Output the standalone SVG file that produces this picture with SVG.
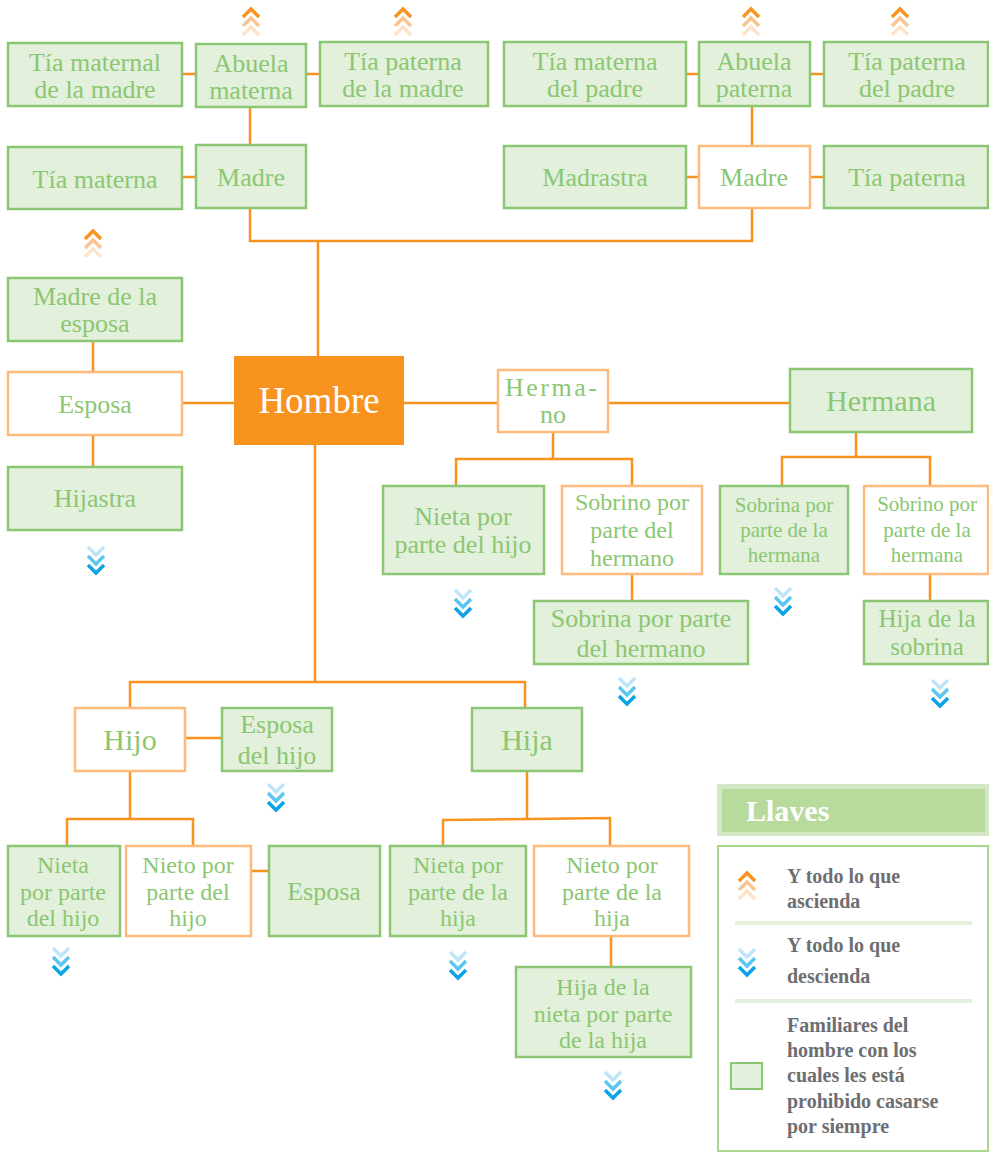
<svg xmlns="http://www.w3.org/2000/svg" width="989" height="1152" viewBox="0 0 989 1152">
<style>
.g{fill:#e3f0dc;stroke:#8bc772;stroke-width:2.5}
.o{fill:#ffffff;stroke:#fdba7c;stroke-width:2.5}
.t{font-family:"Liberation Serif","Times New Roman",serif;font-size:26px;fill:#8bc772;text-anchor:middle}
.t3{font-size:24px}
.c path{fill:none;stroke:#f7931e;stroke-width:2.5}
.lg{font-family:"Liberation Serif","Times New Roman",serif;font-size:20px;font-weight:bold;fill:#6d6e71}
.ch{fill:none;stroke-width:3.5}
</style>
<defs>
<g id="up">
<polyline class="ch" points="-8,8 0,0 8,8" stroke="#f7931e"/>
<polyline class="ch" points="-8,17 0,9 8,17" stroke="#fcc58f"/>
<polyline class="ch" points="-8,26 0,18 8,26" stroke="#fde3cc"/>
</g>
<g id="down">
<polyline class="ch" points="-8,0 0,8 8,0" stroke="#bfe6f8"/>
<polyline class="ch" points="-8,9 0,17 8,9" stroke="#5cc5f0"/>
<polyline class="ch" points="-8,18 0,26 8,18" stroke="#0aa3e6"/>
</g>
</defs>
<rect width="989" height="1152" fill="#ffffff"/>

<g class="c" id="connectors">
<path d="M182,74H196M306,74H320M182,177H196M250,107V145"/>
<path d="M686,74H699M810,74H824M686,177H699M810,177H824M752,106V146"/>
<path d="M250,208V241H752V208M318,241V356"/>
<path d="M93,341V372M93,435V467M182,403H234"/>
<path d="M404,403H498M608,403H790"/>
<path d="M553,432V459M456,486V459H632V486M632,574V601"/>
<path d="M856,432V457M782,486V457H930V486M930,574V601"/>
<path d="M315,445V682M130,708V682H525V708"/>
<path d="M185,738H222M130,771V819M67,846V819H193V846M251,871H269"/>
<path d="M527,771V819M443,846V820L610,818V846M611,936V967"/>
</g>

<g id="tia-maternal-madre"><rect class="g" x="8" y="43" width="174" height="63"/><text class="t" x="95" y="71">Tía maternal</text><text class="t" x="95" y="98">de la madre</text></g>
<g id="abuela-materna"><rect class="g" x="196" y="44" width="110" height="63"/><text class="t" x="251" y="72">Abuela</text><text class="t" x="251" y="99">materna</text></g>
<g id="tia-paterna-madre"><rect class="g" x="320" y="42" width="168" height="64"/><text class="t" x="403" y="70">Tía paterna</text><text class="t" x="403" y="97">de la madre</text></g>
<g id="tia-materna"><rect class="g" x="8" y="147" width="174" height="62"/><text class="t" x="95" y="188">Tía materna</text></g>
<g id="madre-1"><rect class="g" x="196" y="145" width="110" height="63"/><text class="t" x="251" y="186">Madre</text></g>

<g id="tia-materna-padre"><rect class="g" x="504" y="42" width="182" height="64"/><text class="t" x="595" y="70">Tía materna</text><text class="t" x="595" y="97">del padre</text></g>
<g id="abuela-paterna"><rect class="g" x="699" y="42" width="111" height="64"/><text class="t" x="754" y="70">Abuela</text><text class="t" x="754" y="97">paterna</text></g>
<g id="tia-paterna-padre"><rect class="g" x="824" y="42" width="164" height="64"/><text class="t" x="907" y="70">Tía paterna</text><text class="t" x="907" y="97">del padre</text></g>
<g id="madrastra"><rect class="g" x="504" y="146" width="182" height="62"/><text class="t" x="595" y="186">Madrastra</text></g>
<g id="madre-2"><rect class="o" x="699" y="146" width="111" height="62"/><text class="t" x="754" y="186">Madre</text></g>
<g id="tia-paterna"><rect class="g" x="824" y="146" width="164" height="62"/><text class="t" x="907" y="186">Tía paterna</text></g>

<g id="madre-esposa"><rect class="g" x="8" y="278" width="174" height="63"/><text class="t" x="95" y="305">Madre de la</text><text class="t" x="95" y="332">esposa</text></g>
<g id="esposa"><rect class="o" x="8" y="372" width="174" height="63"/><text class="t" x="95" y="413">Esposa</text></g>
<g id="hijastra"><rect class="g" x="8" y="467" width="174" height="63"/><text class="t" x="95" y="507">Hijastra</text></g>

<g id="hombre"><rect x="234" y="356" width="170" height="89" fill="#f7931e"/><text class="t" x="319" y="413" style="font-size:37px;fill:#ffffff">Hombre</text></g>

<g id="hermano"><rect class="o" x="498" y="370" width="110" height="62"/><text class="t" x="505" y="396" style="font-size:26px;letter-spacing:2.5px;text-anchor:start">Herma-</text><text class="t" x="553" y="423" style="font-size:26px">no</text></g>
<g id="hermana"><rect class="g" x="790" y="369" width="182" height="63"/><text class="t" x="881" y="411" style="font-size:30px">Hermana</text></g>

<g id="nieta-hijo-hermano"><rect class="g" x="383" y="486" width="161" height="88"/><text class="t" x="463" y="525">Nieta por</text><text class="t" x="463" y="553">parte del hijo</text></g>
<g id="sobrino-hermano"><rect class="o" x="562" y="486" width="140" height="88"/><text class="t t3" x="632" y="510">Sobrino por</text><text class="t t3" x="632" y="538">parte del</text><text class="t t3" x="632" y="566">hermano</text></g>
<g id="sobrina-hermano"><rect class="g" x="534" y="601" width="214" height="63"/><text class="t" x="641" y="627">Sobrina por parte</text><text class="t" x="641" y="657">del hermano</text></g>
<g id="sobrina-hermana"><rect class="g" x="720" y="486" width="128" height="88"/><text class="t" x="784" y="512" style="font-size:21px">Sobrina por</text><text class="t" x="784" y="537" style="font-size:21px">parte de la</text><text class="t" x="784" y="562" style="font-size:21px">hermana</text></g>
<g id="sobrino-hermana"><rect class="o" x="864" y="486" width="124" height="88"/><text class="t" x="927" y="511" style="font-size:21px">Sobrino por</text><text class="t" x="927" y="537" style="font-size:21px">parte de la</text><text class="t" x="927" y="562" style="font-size:21px">hermana</text></g>
<g id="hija-sobrina"><rect class="g" x="864" y="601" width="124" height="63"/><text class="t" x="927" y="627" style="font-size:25px">Hija de la</text><text class="t" x="927" y="655" style="font-size:25px">sobrina</text></g>

<g id="hijo"><rect class="o" x="75" y="708" width="110" height="63"/><text class="t" x="130" y="750" style="font-size:30px">Hijo</text></g>
<g id="esposa-hijo"><rect class="g" x="222" y="708" width="110" height="63"/><text class="t" x="277" y="733">Esposa</text><text class="t" x="277" y="764">del hijo</text></g>
<g id="hija"><rect class="g" x="472" y="708" width="110" height="63"/><text class="t" x="527" y="750" style="font-size:30px">Hija</text></g>

<g id="nieta-hijo"><rect class="g" x="8" y="846" width="112" height="90"/><text class="t t3" x="63" y="873">Nieta</text><text class="t t3" x="63" y="900">por parte</text><text class="t t3" x="63" y="926">del hijo</text></g>
<g id="nieto-hijo"><rect class="o" x="126" y="846" width="125" height="90"/><text class="t t3" x="188" y="873">Nieto por</text><text class="t t3" x="188" y="900">parte del</text><text class="t t3" x="188" y="926">hijo</text></g>
<g id="esposa-nieto"><rect class="g" x="269" y="846" width="111" height="90"/><text class="t" x="324" y="900">Esposa</text></g>
<g id="nieta-hija"><rect class="g" x="390" y="846" width="136" height="90"/><text class="t t3" x="458" y="873">Nieta por</text><text class="t t3" x="458" y="900">parte de la</text><text class="t t3" x="458" y="926">hija</text></g>
<g id="nieto-hija"><rect class="o" x="534" y="846" width="155" height="90"/><text class="t t3" x="612" y="873">Nieto por</text><text class="t t3" x="612" y="900">parte de la</text><text class="t t3" x="612" y="926">hija</text></g>
<g id="hija-nieta-hija"><rect class="g" x="516" y="967" width="175" height="90"/><text class="t t3" x="603" y="995">Hija de la</text><text class="t t3" x="603" y="1022">nieta por parte</text><text class="t t3" x="603" y="1048">de la hija</text></g>

<g id="chevrons">
<use href="#up" x="251" y="9"/>
<use href="#up" x="403" y="9"/>
<use href="#up" x="751" y="9"/>
<use href="#up" x="900" y="9"/>
<use href="#up" x="93" y="231"/>
<use href="#down" x="96" y="547"/>
<use href="#down" x="463" y="590"/>
<use href="#down" x="783" y="588"/>
<use href="#down" x="627" y="678"/>
<use href="#down" x="940" y="680"/>
<use href="#down" x="276" y="784"/>
<use href="#down" x="61" y="948"/>
<use href="#down" x="458" y="952"/>
<use href="#down" x="613" y="1072"/>
</g>

<g id="legend">
<rect x="717" y="784" width="272" height="52" fill="#d3e8c5"/>
<rect x="722" y="789" width="263" height="43" fill="#b8da9c"/>
<text x="746" y="821" style="font-family:'Liberation Serif','Times New Roman',serif;font-size:30px;font-weight:bold;fill:#ffffff">Llaves</text>
<rect x="718" y="846" width="270" height="305" fill="#ffffff" stroke="#a9d68e" stroke-width="2"/>
<use href="#up" x="747" y="873"/>
<text class="lg" x="787" y="883">Y todo lo que</text>
<text class="lg" x="787" y="908">ascienda</text>
<line x1="735" y1="923" x2="972" y2="923" stroke="#e3f0dc" stroke-width="4"/>
<use href="#down" x="747" y="949"/>
<text class="lg" x="787" y="952">Y todo lo que</text>
<text class="lg" x="787" y="983">descienda</text>
<line x1="735" y1="1001" x2="972" y2="1001" stroke="#e3f0dc" stroke-width="4"/>
<rect x="731" y="1063" width="31" height="26" class="g" style="stroke-width:2"/>
<text class="lg" x="787" y="1032">Familiares del</text>
<text class="lg" x="787" y="1057">hombre con los</text>
<text class="lg" x="787" y="1082">cuales les está</text>
<text class="lg" x="787" y="1108">prohibido casarse</text>
<text class="lg" x="787" y="1133">por siempre</text>
</g>
</svg>
